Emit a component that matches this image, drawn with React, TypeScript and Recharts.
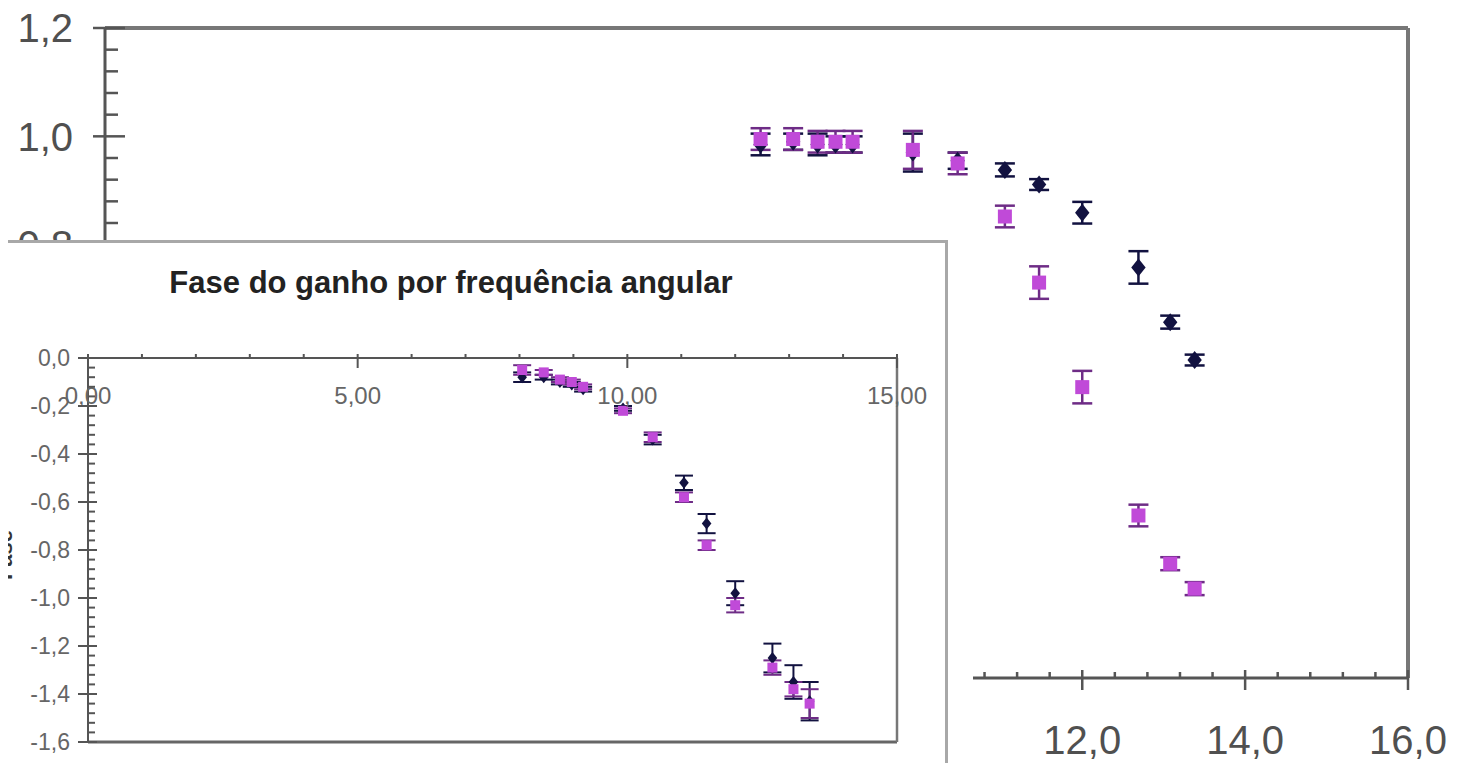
import React from "react";
import {
  ScatterChart,
  Scatter,
  XAxis,
  YAxis,
  ErrorBar,
  ReferenceLine,
} from "recharts";

// angular frequency (shared by both plots)
const freq = [8.05, 8.45, 8.75, 8.97, 9.18, 9.92, 10.47, 11.05, 11.47, 12.0, 12.69, 13.08, 13.38];

// gain magnitude (background plot)
const gainDark = [0.985, 0.99, 0.985, 0.985, 0.985, 0.97, 0.955, 0.938, 0.911, 0.859, 0.758, 0.657, 0.587];
const gainDarkErr = [0.02, 0.015, 0.02, 0.015, 0.015, 0.035, 0.015, 0.012, 0.01, 0.02, 0.03, 0.012, 0.01];
const gainPink = [0.995, 0.995, 0.99, 0.99, 0.99, 0.975, 0.95, 0.852, 0.73, 0.537, 0.3, 0.211, 0.165];
const gainPinkErr = [0.02, 0.02, 0.02, 0.02, 0.02, 0.035, 0.02, 0.02, 0.03, 0.03, 0.02, 0.012, 0.012];

// gain phase (inset)
const phaseDark = [-0.08, -0.08, -0.1, -0.11, -0.13, -0.21, -0.34, -0.52, -0.69, -0.98, -1.25, -1.35, -1.43];
const phaseDarkErr = [0.02, 0.01, 0.01, 0.01, 0.01, 0.01, 0.02, 0.03, 0.04, 0.05, 0.06, 0.07, 0.08];
const phasePink = [-0.05, -0.06, -0.09, -0.1, -0.12, -0.22, -0.33, -0.58, -0.78, -1.03, -1.29, -1.38, -1.44];
const phasePinkErr = [0.02, 0.01, 0.01, 0.01, 0.01, 0.01, 0.02, 0.02, 0.02, 0.03, 0.03, 0.03, 0.06];

// axis ticks (major labelled ones, minor subdivisions in between)
const gainXMajor = [0, 2, 4, 6, 8, 10, 12, 14, 16];
const gainYMajor = [0, 0.2, 0.4, 0.6, 0.8, 1.0, 1.2];
const phaseXMajor = [0, 5, 10, 15];
const phaseYMajor = [-1.6, -1.4, -1.2, -1.0, -0.8, -0.6, -0.4, -0.2, 0];

const TITLE = "Fase do ganho por frequência angular";
const DARK = "#121240";
const PINK = "#c04ad8";
const PINK_ERR = "#6e2c86";
const FONT = '"Liberation Sans", Arial, sans-serif';

const withMinor = (major: number[], parts: number) => {
  const out: number[] = [];
  for (let i = 0; i < major.length - 1; i++) {
    const step = (major[i + 1] - major[i]) / parts;
    for (let k = 0; k < parts; k++) out.push(+(major[i] + k * step).toFixed(4));
  }
  out.push(major[major.length - 1]);
  return out;
};

const isMajor = (v: number, major: number[]) => major.some((m) => Math.abs(m - v) < 1e-6);
const comma = (v: number, d: number) => v.toFixed(d).replace(".", ",");

const build = (ys: number[], errs: number[]) => freq.map((f, i) => ({ x: f, y: ys[i], err: errs[i] }));

const diamond = (r: number, color: string) => (props: any) => {
  const { cx, cy } = props;
  if (cx == null || cy == null) return <g />;
  return (
    <path
      d={`M${cx},${cy - r}L${cx + r * 0.8},${cy}L${cx},${cy + r}L${cx - r * 0.8},${cy}Z`}
      fill={color}
    />
  );
};

const square = (r: number, color: string) => (props: any) => {
  const { cx, cy } = props;
  if (cx == null || cy == null) return <g />;
  return <rect x={cx - r} y={cy - r} width={2 * r} height={2 * r} fill={color} />;
};

// background plot ticks
const GainYTick = (props: any) => {
  const { x, y, payload } = props;
  const major = isMajor(payload.value, gainYMajor);
  return (
    <g>
      <line x1={major ? x - 12 : x} x2={x + (major ? 20 : 13)} y1={y} y2={y} stroke="#555" strokeWidth={2.5} />
      {major && (
        <text x={x - 32} y={y} dy="0.36em" textAnchor="end" fontSize={40} fill="#505050" fontFamily={FONT}>
          {comma(payload.value, 1)}
        </text>
      )}
    </g>
  );
};

const GainXTick = (props: any) => {
  const { x, y, payload } = props;
  const major = isMajor(payload.value, gainXMajor);
  return (
    <g>
      <line x1={x} x2={x} y1={y - (major ? 8 : 6)} y2={major ? y + 12 : y} stroke="#555" strokeWidth={2.5} />
      {major && (
        <text x={x} y={y + 76} textAnchor="middle" fontSize={40} fill="#505050" fontFamily={FONT}>
          {comma(payload.value, 1)}
        </text>
      )}
    </g>
  );
};

// inset ticks
const PhaseYTick = (props: any) => {
  const { x, y, payload } = props;
  const major = isMajor(payload.value, phaseYMajor);
  return (
    <g>
      <line x1={major ? x - 10 : x} x2={x + (major ? 9 : 7)} y1={y} y2={y} stroke="#555" strokeWidth={2} />
      {major && (
        <text x={x - 18} y={y} dy="0.36em" textAnchor="end" fontSize={23} fill="#666" fontFamily={FONT}>
          {comma(payload.value, 1)}
        </text>
      )}
    </g>
  );
};

const PhaseXTick = (props: any) => {
  const { x, y, payload } = props;
  const major = isMajor(payload.value, phaseXMajor);
  return (
    <g>
      <line x1={x} x2={x} y1={y - 4} y2={major ? y + 10 : y} stroke="#555" strokeWidth={2} />
      {major && (
        <text x={x} y={y + 46} textAnchor="middle" fontSize={24} fill="#666" fontFamily={FONT}>
          {comma(payload.value, 2)}
        </text>
      )}
    </g>
  );
};

export default function App() {
  const gDark = build(gainDark, gainDarkErr);
  const gPink = build(gainPink, gainPinkErr);
  const pDark = build(phaseDark, phaseDarkErr);
  const pPink = build(phasePink, phasePinkErr);

  return (
    <div
      style={{
        position: "relative",
        width: 1461,
        height: 771,
        margin: -8,
        overflow: "hidden",
        background: "#fff",
        fontFamily: FONT,
      }}
    >
      <div style={{ position: "absolute", left: 0, top: 0 }}>
        <ScatterChart width={1461} height={771} margin={{ top: 28, right: 53, bottom: 0, left: 0 }}>
          <XAxis
            type="number"
            dataKey="x"
            domain={[0, 16]}
            ticks={withMinor(gainXMajor, 5)}
            interval={0}
            height={93}
            tickSize={0}
            tickMargin={0}
            tickLine={false}
            axisLine={{ stroke: "#555", strokeWidth: 3 }}
            tick={<GainXTick />}
            allowDataOverflow
          />
          <YAxis
            type="number"
            dataKey="y"
            domain={[0, 1.2]}
            ticks={withMinor(gainYMajor, 5)}
            interval={0}
            width={105}
            tickSize={0}
            tickMargin={0}
            tickLine={false}
            axisLine={{ stroke: "#555", strokeWidth: 3 }}
            tick={<GainYTick />}
            allowDataOverflow
          />
          <ReferenceLine y={1.2} stroke="#777" strokeWidth={4} />
          <ReferenceLine x={16} stroke="#777" strokeWidth={4} />
          <Scatter data={gDark} shape={diamond(9, DARK)} isAnimationActive={false}>
            <ErrorBar dataKey="err" direction="y" width={10} stroke={DARK} strokeWidth={2.5} />
          </Scatter>
          <Scatter data={gPink} shape={square(7, PINK)} isAnimationActive={false}>
            <ErrorBar dataKey="err" direction="y" width={10} stroke={PINK_ERR} strokeWidth={2.5} />
          </Scatter>
        </ScatterChart>
      </div>

      {/* white margin around the inset, hiding the background axis below it */}
      <div style={{ position: "absolute", left: 0, top: 243, width: 973, height: 540, background: "#fff" }} />
      {/* inset frame */}
      <div
        style={{
          position: "absolute",
          left: -3,
          top: 240,
          width: 951,
          height: 600,
          boxSizing: "border-box",
          border: "3px solid #a8a8a8",
          background: "#fff",
        }}
      />
      <div
        style={{
          position: "absolute",
          left: 0,
          top: 264,
          width: 902,
          textAlign: "center",
          fontSize: 31,
          fontWeight: "bold",
          color: "#222",
          lineHeight: "38px",
        }}
      >
        {TITLE}
      </div>
      <div
        style={{
          position: "absolute",
          left: -45,
          top: 543,
          width: 100,
          height: 24,
          lineHeight: "24px",
          textAlign: "center",
          fontSize: 22,
          fontWeight: "bold",
          color: "#333",
          transform: "rotate(-90deg)",
        }}
      >
        Fase
      </div>
      <div style={{ position: "absolute", left: 0, top: 300 }}>
        <ScatterChart width={948} height={471} margin={{ top: 57, right: 51, bottom: 29, left: 0 }}>
          <XAxis
            type="number"
            dataKey="x"
            orientation="top"
            domain={[0, 15]}
            ticks={withMinor(phaseXMajor, 5)}
            interval={0}
            height={1}
            tickSize={0}
            tickMargin={0}
            tickLine={false}
            axisLine={{ stroke: "#555", strokeWidth: 2 }}
            tick={<PhaseXTick />}
            allowDataOverflow
          />
          <YAxis
            type="number"
            dataKey="y"
            domain={[-1.6, 0]}
            ticks={withMinor(phaseYMajor, 5)}
            interval={0}
            width={88}
            tickSize={0}
            tickMargin={0}
            tickLine={false}
            axisLine={{ stroke: "#555", strokeWidth: 2 }}
            tick={<PhaseYTick />}
            allowDataOverflow
          />
          <ReferenceLine y={-1.6} stroke="#666" strokeWidth={3} />
          <ReferenceLine x={15} stroke="#777" strokeWidth={2.5} />
          <Scatter data={pDark} shape={diamond(6, DARK)} isAnimationActive={false}>
            <ErrorBar dataKey="err" direction="y" width={9} stroke={DARK} strokeWidth={2} />
          </Scatter>
          <Scatter data={pPink} shape={square(5, PINK)} isAnimationActive={false}>
            <ErrorBar dataKey="err" direction="y" width={9} stroke={PINK_ERR} strokeWidth={2} />
          </Scatter>
        </ScatterChart>
      </div>
    </div>
  );
}
